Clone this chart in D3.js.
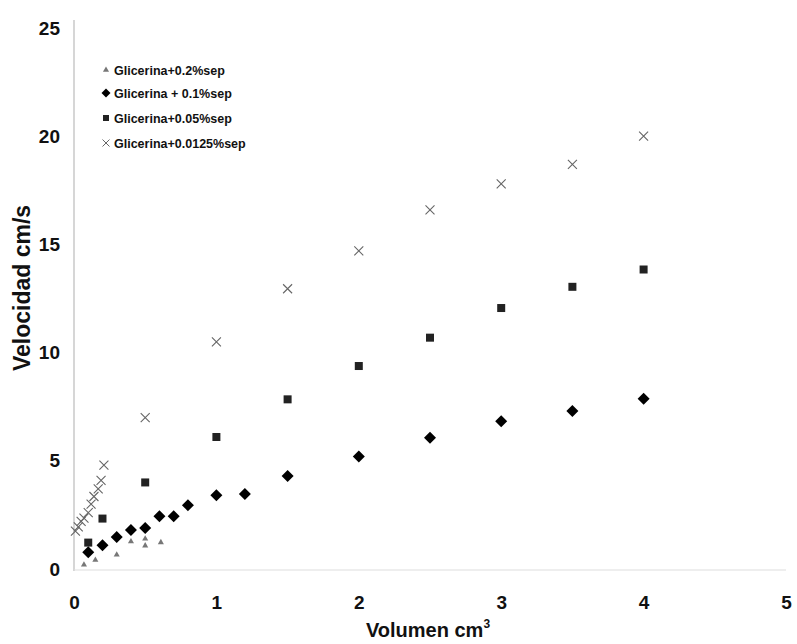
<!DOCTYPE html>
<html>
<head>
<meta charset="utf-8">
<script src="https://cdn.jsdelivr.net/npm/d3@7"></script>
<style>
  html, body { margin: 0; padding: 0; background: #fff; }
  svg { display: block; }
  .tick-label { font-family: "Liberation Sans", Arial, sans-serif; font-weight: bold; fill: #111; }
  .legend-text { font-family: "Liberation Sans", Arial, sans-serif; font-weight: bold; font-size: 12.5px; fill: #111; }
</style>
</head>
<body>
<svg id="chart" width="797" height="644"></svg>
<script>
// Velocity vs. volume for glycerine solutions with different separator concentrations
const seriesNames = [
  "Glicerina+0.2%sep",
  "Glicerina + 0.1%sep",
  "Glicerina+0.05%sep",
  "Glicerina+0.0125%sep"
];

const sep02X = [0.07, 0.15, 0.3, 0.4, 0.5, 0.5, 0.61];
const sep02Y = [0.2, 0.42, 0.66, 1.27, 1.4, 1.08, 1.23];

const sep01X = [0.1, 0.2, 0.3, 0.4, 0.5, 0.6, 0.7, 0.8, 1.0, 1.2, 1.5, 2.0, 2.5, 3.0, 3.5, 4.0];
const sep01Y = [0.77, 1.1, 1.48, 1.8, 1.9, 2.44, 2.44, 2.95, 3.41, 3.47, 4.3, 5.2, 6.06, 6.83, 7.3, 7.87];

const sep005X = [0.1, 0.2, 0.5, 1.0, 1.5, 2.0, 2.5, 3.0, 3.5, 4.0];
const sep005Y = [1.22, 2.33, 4.0, 6.1, 7.84, 9.38, 10.69, 12.06, 13.04, 13.84];

const sep00125X = [0.01, 0.03, 0.05, 0.07, 0.1, 0.12, 0.14, 0.17, 0.19, 0.21, 0.5, 1.0, 1.5, 2.0, 2.5, 3.0, 3.5, 4.0];
const sep00125Y = [1.75, 1.95, 2.2, 2.35, 2.6, 3.0, 3.35, 3.7, 4.1, 4.8, 7.0, 10.5, 12.95, 14.7, 16.6, 17.8, 18.7, 20.0];

const xTicks = [0, 1, 2, 3, 4, 5];
const yTicks = [0, 5, 10, 15, 20, 25];

const svg = d3.select("#chart");

const x = d3.scaleLinear().domain([0, 5]).range([74, 786]);
const y = d3.scaleLinear().domain([0, 25]).range([569, 28]);

// axis lines
svg.append("line")
  .attr("x1", x(0)).attr("x2", x(0))
  .attr("y1", y(25) - 8).attr("y2", y(0) + 2)
  .attr("stroke", "#bbb").attr("stroke-width", 1.2);
svg.append("line")
  .attr("x1", x(0)).attr("x2", x(5))
  .attr("y1", y(0) + 1).attr("y2", y(0) + 1)
  .attr("stroke", "#ddd").attr("stroke-width", 1.2);

// y tick labels
const yAxis = d3.axisLeft(y).tickValues(yTicks).tickFormat(d3.format("d")).tickSize(0).tickPadding(14);
const gy = svg.append("g").attr("transform", `translate(${x(0)},0)`).call(yAxis);
gy.select(".domain").remove();
gy.selectAll("text").attr("class", "tick-label").style("font-size", "19px");

// x tick labels
const xAxis = d3.axisBottom(x).tickValues(xTicks).tickFormat(d3.format("d")).tickSize(0).tickPadding(27);
const gx = svg.append("g").attr("transform", `translate(0,${y(0)})`).call(xAxis);
gx.select(".domain").remove();
gx.selectAll("text").attr("class", "tick-label").style("font-size", "19px");

// axis titles
svg.append("text")
  .attr("class", "tick-label")
  .attr("transform", "translate(30,288) rotate(-90)")
  .attr("text-anchor", "middle")
  .style("font-size", "23px")
  .text("Velocidad cm/s");

const xt = svg.append("text")
  .attr("class", "tick-label")
  .attr("x", 428).attr("y", 637)
  .attr("text-anchor", "middle")
  .style("font-size", "20px");
xt.append("tspan").text("Volumen cm");
xt.append("tspan").attr("dy", -9).style("font-size", "12px").text("3");

// marker drawers
const zip = (xs, ys) => xs.map((v, i) => [v, ys[i]]);

function triangle(g) {
  g.append("path").attr("d", d3.symbol(d3.symbolTriangle).size(16)()).attr("fill", "#777");
}
function diamond(g) {
  g.append("path").attr("d", "M0,-6L6,0L0,6L-6,0Z").attr("fill", "#000");
}
function square(g) {
  g.append("rect").attr("x", -4).attr("y", -4).attr("width", 8).attr("height", 8).attr("fill", "#222");
}
function cross(g) {
  g.append("path").attr("d", "M-4.5,-4.5L4.5,4.5M-4.5,4.5L4.5,-4.5")
    .attr("stroke", "#666").attr("stroke-width", 1.1).attr("fill", "none");
}

const seriesDefs = [
  { data: zip(sep00125X, sep00125Y), draw: cross },
  { data: zip(sep02X, sep02Y), draw: triangle },
  { data: zip(sep005X, sep005Y), draw: square },
  { data: zip(sep01X, sep01Y), draw: diamond }
];

seriesDefs.forEach(sd => {
  svg.append("g").selectAll("g").data(sd.data).join("g")
    .attr("transform", d => `translate(${x(d[0])},${y(d[1])})`)
    .each(function () { sd.draw(d3.select(this)); });
});

// legend
const legendY = [70, 93, 118, 143];
seriesNames.forEach((name, i) => {
  const g = svg.append("g").attr("transform", `translate(106,${legendY[i]})`);
  const m = g.append("g");
  if (i === 0) {
    triangle(m);
  } else if (i === 1) {
    m.append("path").attr("d", "M0,-4.5L4.5,0L0,4.5L-4.5,0Z").attr("fill", "#000");
  } else if (i === 2) {
    m.append("rect").attr("x", -3).attr("y", -3).attr("width", 6).attr("height", 6).attr("fill", "#222");
  } else {
    m.append("path").attr("d", "M-3.5,-3.5L3.5,3.5M-3.5,3.5L3.5,-3.5")
      .attr("stroke", "#666").attr("stroke-width", 1).attr("fill", "none");
  }
  g.append("text").attr("class", "legend-text").attr("x", 8).attr("y", 4.5).text(name);
});
</script>
</body>
</html>
